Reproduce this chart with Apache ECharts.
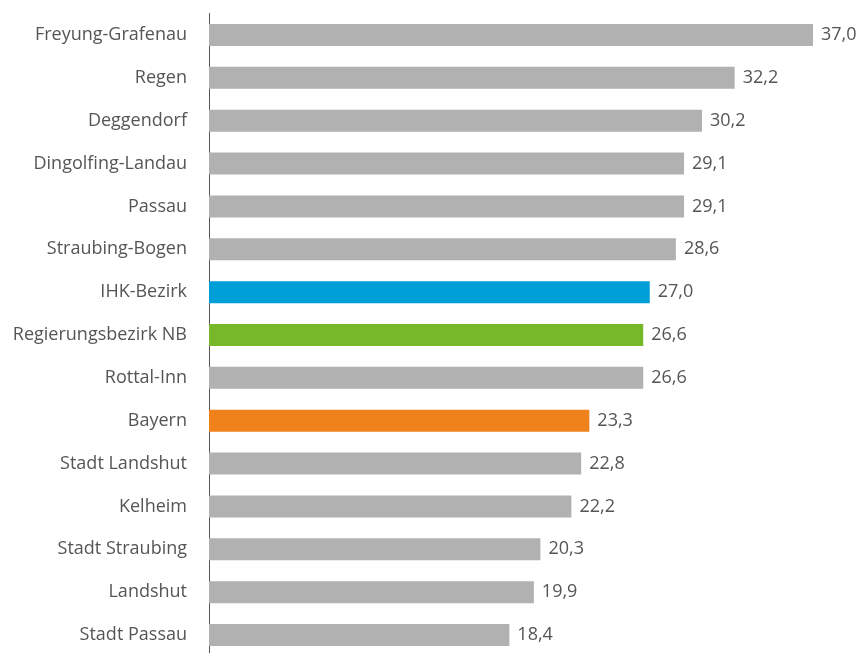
<!DOCTYPE html>
<html>
<head>
<meta charset="utf-8">
<script src="https://cdn.jsdelivr.net/npm/echarts@6/dist/echarts.min.js"></script>
<style>
  html, body { margin: 0; padding: 0; background: #fff; }
  #chart { width: 859px; height: 653px; }
</style>
</head>
<body>
<div id="chart"></div>
<script>
// data, top to bottom as in the picture
const categories = [
  "Freyung-Grafenau", "Regen", "Deggendorf", "Dingolfing-Landau", "Passau",
  "Straubing-Bogen", "IHK-Bezirk", "Regierungsbezirk NB", "Rottal-Inn", "Bayern",
  "Stadt Landshut", "Kelheim", "Stadt Straubing", "Landshut", "Stadt Passau"
];
const values = [37.0, 32.2, 30.2, 29.1, 29.1, 28.6, 27.0, 26.6, 26.6, 23.3, 22.8, 22.2, 20.3, 19.9, 18.4];
const highlight = {
  "IHK-Bezirk": "#009fd7",
  "Regierungsbezirk NB": "#77b82a",
  "Bayern": "#f0821b"
};

const chart = echarts.init(document.getElementById("chart"));
const option = {
  animation: false,
  grid: {
    left: 209,
    right: 46,
    top: 13.5,
    bottom: -3.5,
    outerBoundsMode: "none",
    containLabel: false
  },
  xAxis: {
    type: "value",
    min: 0,
    max: 37,
    show: false
  },
  yAxis: {
    type: "category",
    inverse: true,
    data: categories,
    axisLine: { lineStyle: { color: "#555", width: 1 } },
    axisTick: { show: false },
    axisLabel: {
      color: "#555",
      fontSize: 18,
      fontFamily: "Open Sans",
      margin: 22
    }
  },
  series: [
    {
      type: "bar",
      barWidth: 22,
      data: values.map((v, i) => ({
        value: v,
        itemStyle: { color: highlight[categories[i]] || "#b1b1b1" }
      })),
      label: {
        show: true,
        position: "right",
        distance: 8,
        color: "#555",
        fontSize: 18,
        fontFamily: "Open Sans",
        formatter: (p) => p.value.toFixed(1).replace(".", ",")
      }
    }
  ]
};
chart.setOption(option);
</script>
</body>
</html>
